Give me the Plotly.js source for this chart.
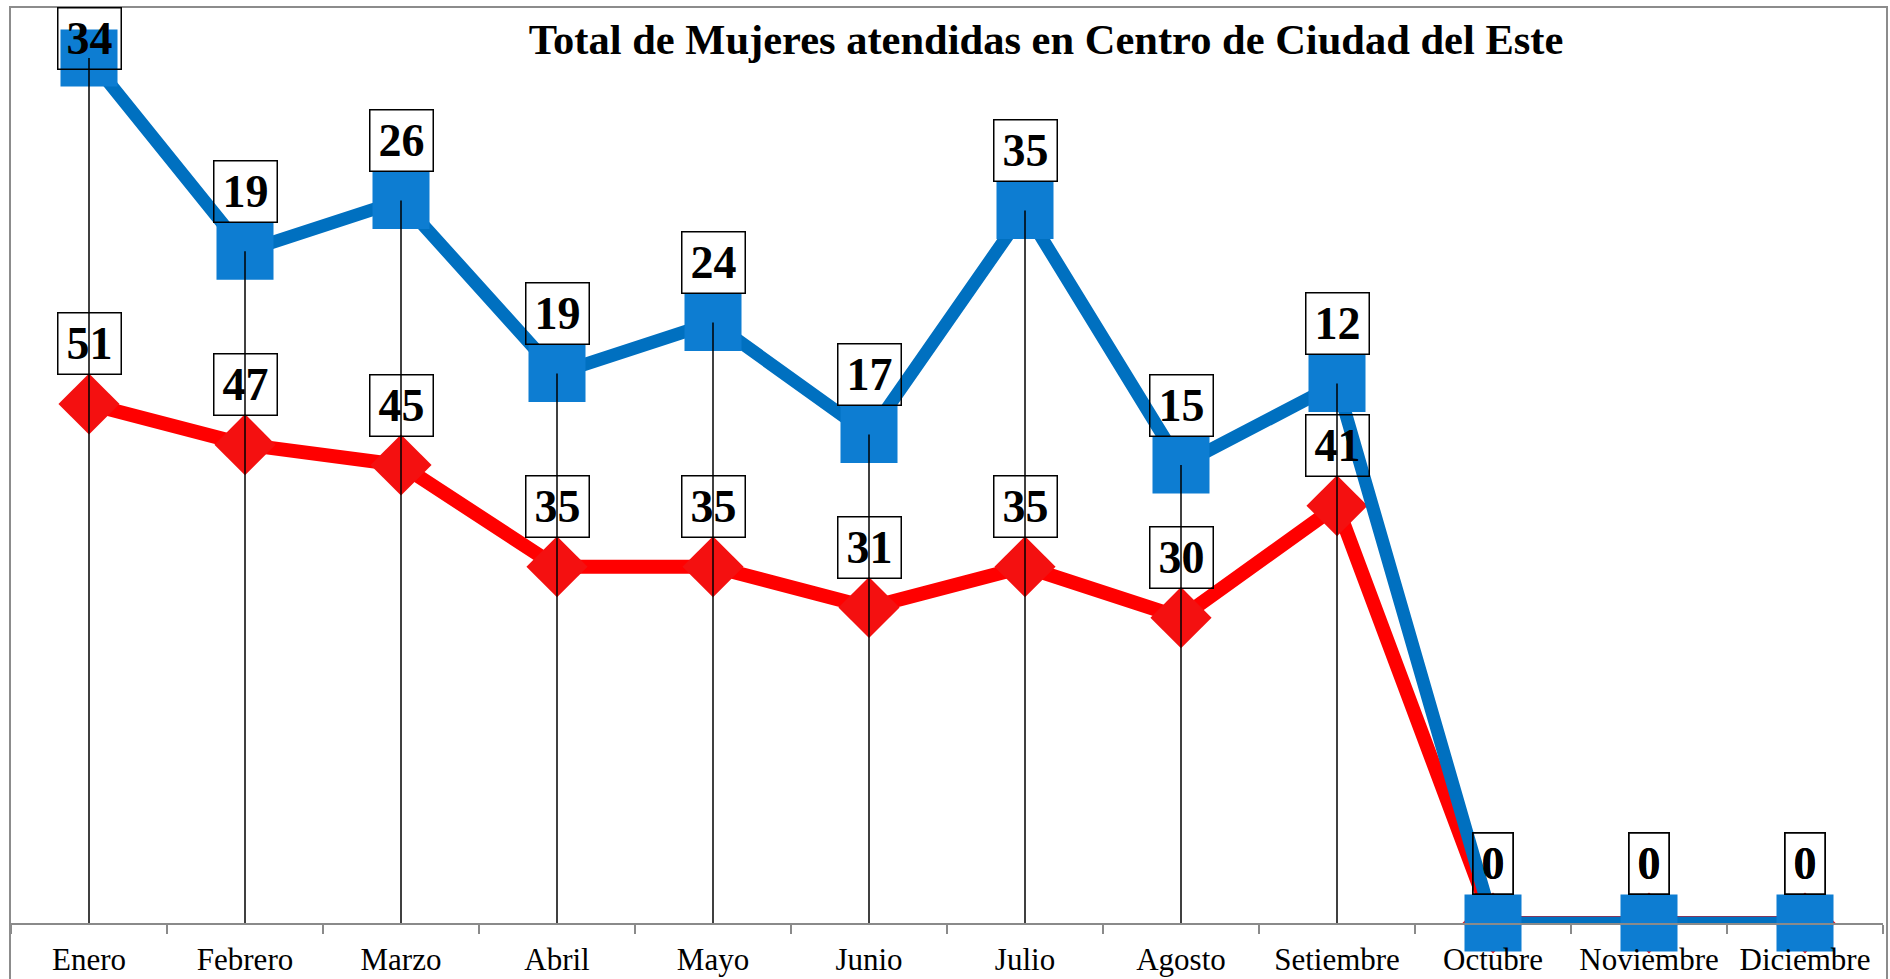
<!DOCTYPE html>
<html>
<head>
<meta charset="utf-8">
<script src="https://cdn.plot.ly/plotly-3.0.1.min.js"></script>
<style>
  html, body { margin: 0; padding: 0; background: #ffffff; }
  #chart { width: 1890px; height: 979px; }
</style>
</head>
<body>
<div id="chart"></div>
<script>
// ---- Data ----
const months = ["Enero", "Febrero", "Marzo", "Abril", "Mayo", "Junio", "Julio",
                "Agosto", "Setiembre", "Octubre", "Noviembre", "Diciembre"];
const seriesRed  = [51, 47, 45, 35, 35, 31, 35, 30, 41, 0, 0, 0];
const seriesBlue = [34, 19, 26, 19, 24, 17, 35, 15, 12, 0, 0, 0];
const chartTitle = "Total de Mujeres atendidas en Centro de Ciudad del Este";

// ---- Layout constants ----
const W = 1890, H = 979;
const M = { l: 11, r: 7, t: 7, b: 56 };
const yRange = [0, 90];
const plotH = H - M.t - M.b;
const ppu = plotH / (yRange[1] - yRange[0]);

// stacked line: blue series sits on top of red
const stackedBlue = seriesBlue.map((v, i) => v + seriesRed[i]);

// drop lines from top of stack to axis
const dropX = [], dropY = [];
months.forEach((m, i) => { dropX.push(m, m, null); dropY.push(stackedBlue[i], 0, null); });

const labelFont = { family: "Liberation Serif, Times New Roman, serif", size: 46, color: "#000000" };
const markerHalf = 28.5;
const boxH = 63;

function makeLabel(x, yVal, text) {
  let shift = markerHalf;
  const room = (yRange[1] - yVal) * ppu;
  if (shift + boxH > room) shift = room - boxH;
  return {
    x: x, y: yVal, xref: "x", yref: "y",
    text: "<b>" + text + "</b>",
    showarrow: false,
    xanchor: "center", yanchor: "bottom",
    yshift: shift,
    font: labelFont,
    bordercolor: "#000000", borderwidth: 1.5, borderpad: 0,
    bgcolor: "rgba(0,0,0,0)",
    width: String(text).length * 23 + 16,
    height: boxH - 3,
    valign: "middle", align: "center"
  };
}

const annotations = [];
months.forEach((m, i) => annotations.push(makeLabel(m, seriesRed[i], seriesRed[i])));
months.forEach((m, i) => annotations.push(makeLabel(m, stackedBlue[i], seriesBlue[i])));

const traces = [
  {
    type: "scatter", mode: "lines+markers", name: "Serie 1",
    x: months, y: seriesRed,
    line: { color: "#ff0000", width: 14 },
    marker: { symbol: "diamond", size: 47, color: "#f41010", line: { width: 0 } },
    cliponaxis: false, hoverinfo: "skip"
  },
  {
    type: "scatter", mode: "lines+markers", name: "Serie 2",
    x: months, y: stackedBlue,
    line: { color: "#0070c0", width: 13 },
    marker: { symbol: "square", size: 57, color: "#0d7dd2", line: { width: 0 } },
    cliponaxis: false, hoverinfo: "skip"
  },
  {
    type: "scatter", mode: "lines", name: "drop",
    x: dropX, y: dropY,
    line: { color: "#000000", width: 1.5 },
    cliponaxis: false, hoverinfo: "skip"
  }
];

const layout = {
  width: W, height: H,
  margin: M,
  paper_bgcolor: "#ffffff", plot_bgcolor: "#ffffff",
  showlegend: false,
  title: {
    text: "<b>" + chartTitle + "</b>",
    x: 1046 / W, xref: "container", xanchor: "center",
    y: 1 - 39 / H, yref: "container", yanchor: "middle",
    font: { family: "Liberation Serif, Times New Roman, serif", size: 42.5, color: "#000000" }
  },
  xaxis: {
    type: "category",
    range: [-0.5, months.length - 0.5],
    autorange: false,
    showgrid: false, zeroline: false,
    showline: true, linecolor: "#8a8a8a", linewidth: 1.5,
    ticks: "outside", tickson: "boundaries", ticklen: 9, tickwidth: 1.5, tickcolor: "#8a8a8a",
    tickangle: 0,
    ticklabelstandoff: 8,
    tickfont: { family: "Liberation Serif, Times New Roman, serif", size: 31, color: "#000000" },
    fixedrange: true
  },
  yaxis: {
    range: yRange, autorange: false,
    showgrid: false, zeroline: false, showline: false,
    showticklabels: false, ticks: "",
    fixedrange: true
  },
  shapes: [
    {
      type: "rect", xref: "paper", yref: "paper",
      x0: -1 / (W - M.l - M.r), x1: 1 + 4 / (W - M.l - M.r),
      y0: -0.2, y1: 1,
      line: { color: "#8c8c8c", width: 2 }, fillcolor: "rgba(0,0,0,0)",
      layer: "above"
    }
  ],
  annotations: annotations
};

Plotly.newPlot("chart", traces, layout, { displayModeBar: false, staticPlot: true });
</script>
</body>
</html>
